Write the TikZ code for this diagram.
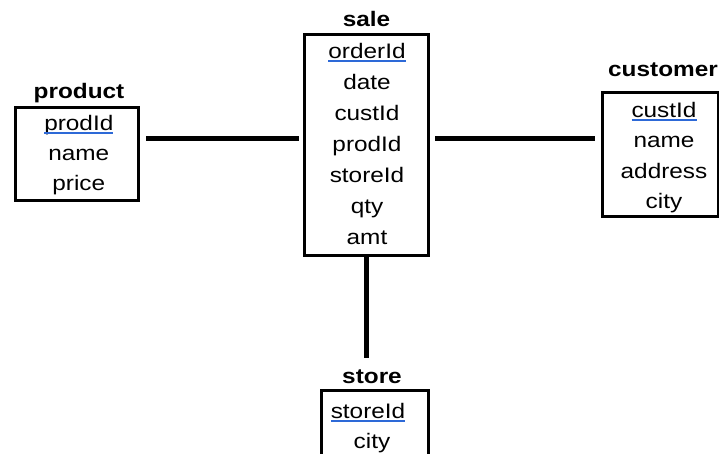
\documentclass[tikz,border=0pt]{standalone}
\usepackage{fontspec}
\setmainfont[FakeStretch=1.16]{Liberation Sans}
\definecolor{keyblue}{RGB}{45,105,215}
\begin{document}
\begin{tikzpicture}[x=1pt,y=-1pt,
  entbox/.style={draw=black,line width=3pt,rectangle,inner sep=0pt,outer sep=0pt,fill=white},
  enttitle/.style={inner sep=0pt,outer sep=0pt,anchor=base,font=\fontsize{21}{25}\selectfont\bfseries},
  attr/.style={inner sep=0pt,outer sep=0pt,anchor=base,font=\fontsize{21}{25}\selectfont},
  link/.style={draw=black,line width=5pt},
  pkline/.style={draw=keyblue,line width=1.3pt}]
\useasboundingbox (0,0) rectangle (719,453);

% entity boxes
\node[entbox,minimum width=123pt,minimum height=93pt] (product) at (77.2,153.5) {};
\node[entbox,minimum width=124pt,minimum height=220.7pt] (sale) at (366.3,144.65) {};
\node[entbox,minimum width=116pt,minimum height=124pt] (customer) at (660,154) {};
\node[entbox,minimum width=106.3pt,minimum height=120pt] (store) at (374.85,450) {};

% entity names
\node[enttitle] (ptitle) at (79,98) {product};
\node[enttitle] (stitle) at (366.5,26) {sale};
\node[enttitle] (ctitle) at (663,76.7) {customer};
\node[enttitle] (rtitle) at (372,383) {store};

% product attributes
\node[attr] (p1) at (78.8,130) {prodId};
\node[attr] (p2) at (78.8,160) {name};
\node[attr] (p3) at (78.8,190) {price};

% sale attributes
\node[attr] (s1) at (367,58) {orderId};
\node[attr] (s2) at (367,89) {date};
\node[attr] (s3) at (367,120) {custId};
\node[attr] (s4) at (367,151) {prodId};
\node[attr] (s5) at (367,182) {storeId};
\node[attr] (s6) at (367,213) {qty};
\node[attr] (s7) at (367,244) {amt};

% customer attributes
\node[attr] (c1) at (664,117) {custId};
\node[attr] (c2) at (664,147) {name};
\node[attr] (c3) at (664,178) {address};
\node[attr] (c4) at (664,208) {city};

% store attributes
\node[attr] (r1) at (368,418) {storeId};
\node[attr] (r2) at (372,448) {city};

% key underlines
\foreach \k in {p1,s1,c1,r1}
  \draw[pkline] ([yshift=-3pt]\k.base west) -- ([yshift=-3pt]\k.base east);

% relationships
\coordinate (pe) at ([yshift=15.2pt]product.east);
\draw[link,shorten <=7.3pt,shorten >=5.3pt] (pe) -- (sale.west |- pe);
\coordinate (se) at ([yshift=6.35pt]sale.east);
\draw[link,shorten <=6.7pt,shorten >=7pt] (se) -- (customer.west |- se);
\draw[link,shorten <=1pt,shorten >=11pt] ([xshift=0.4pt]sale.south) -- ([xshift=0.4pt]sale.south |- rtitle.north);
\end{tikzpicture}
\end{document}
